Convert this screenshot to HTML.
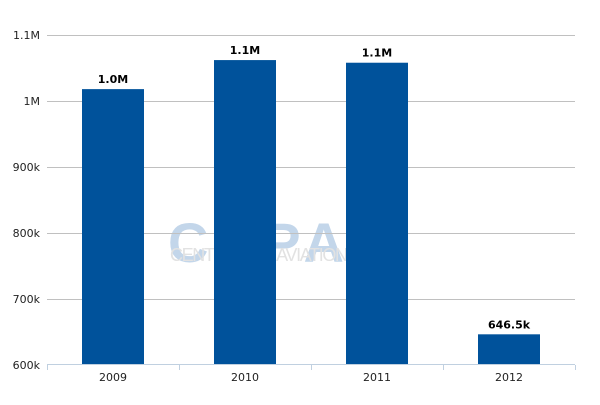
<!DOCTYPE html>
<html><head><meta charset="utf-8"><style>
body{margin:0;background:#fff;}
svg text{font-family:"DejaVu Sans","Liberation Sans",sans-serif;}
</style></head><body>
<svg width="600" height="400" xmlns="http://www.w3.org/2000/svg">
<g id="wm">
<text x="168" y="262" font-size="56" font-weight="bold" fill="#c3d6ea" font-family="Liberation Sans,sans-serif" style="font-family:'Liberation Sans',sans-serif" textLength="176">CAPA</text>
<text x="170" y="261" font-size="18" fill="#e2e2e2" style="font-family:'Liberation Sans',sans-serif" textLength="178">CENTRE FOR AVIATION</text>
</g>
<g id="grid"></g><g id="bars"></g><g id="axes"></g>
</svg>
<script>
const categories=["2009","2010","2011","2012"];
const values=[1018000,1062000,1058000,646500];
const valueLabels=["1.0M","1.1M","1.1M","646.5k"];
const yTicks=[600000,700000,800000,900000,1000000,1100000];
const yTickLabels=["600k","700k","800k","900k","1M","1.1M"];
const NS="http://www.w3.org/2000/svg";
const x0=47,x1=575,yB=365,yT=35,vMin=600000,vMax=1100000;
const y=v=>yB-(v-vMin)/(vMax-vMin)*(yB-yT);
const bw=(x1-x0)/categories.length;
function mk(t,a,p){const e=document.createElementNS(NS,t);for(const k in a)e.setAttribute(k,a[k]);p.appendChild(e);return e;}
const grid=document.getElementById('grid'),bars=document.getElementById('bars'),axes=document.getElementById('axes');
yTicks.forEach((v,i)=>{
 if(i>0){const l=mk('line',{x1:x0,x2:x1,y1:y(v)+0.5,y2:y(v)+0.5,stroke:'#c0c0c0','stroke-width':1},grid);
 
 }
 const t=mk('text',{x:40,y:y(v)+4,'text-anchor':'end','font-size':11,fill:'#222'},axes);t.textContent=yTickLabels[i];
 
 
});
const ax=mk('line',{x1:x0,x2:x1,y1:yB-0.5,y2:yB-0.5,stroke:'#c0d0e0','stroke-width':1},axes);


for(let i=0;i<=categories.length;i++){const tk=mk('line',{x1:x0+i*bw+0.5,x2:x0+i*bw+0.5,y1:yB,y2:yB+5,stroke:'#c0d0e0'},axes);
 
 }
categories.forEach((c,i)=>{
 const cx=x0+bw*(i+0.5),w=62;
 const r=mk('rect',{x:cx-w/2,y:y(values[i]),width:w,height:yB-y(values[i]),fill:'#00529b'},bars);
 
 
 const lb=mk('text',{x:cx,y:y(values[i])-6,'text-anchor':'middle','font-size':11,'font-weight':'bold',fill:'#000'},bars);lb.textContent=valueLabels[i];
 
 
 const t=mk('text',{x:cx,y:yB+16,'text-anchor':'middle','font-size':11,fill:'#222'},axes);t.textContent=c;
 
 
});
</script>
</body></html>
